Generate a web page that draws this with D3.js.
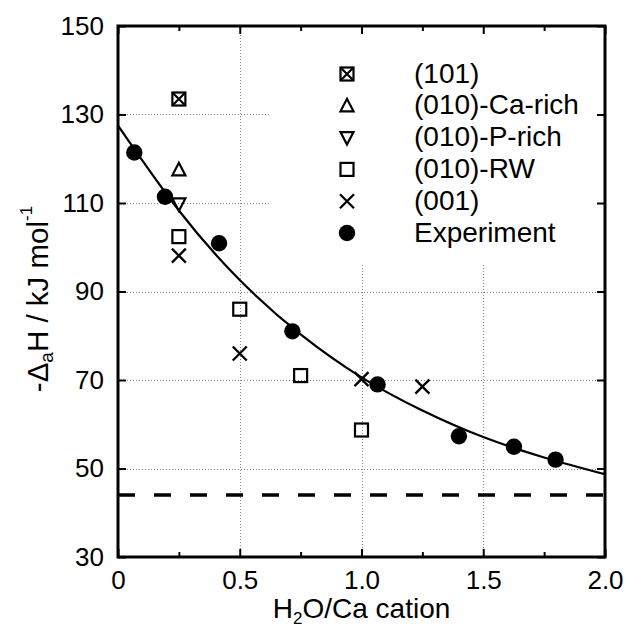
<!DOCTYPE html>
<html>
<head>
<meta charset="utf-8">
<script src="https://cdn.jsdelivr.net/npm/d3@7"></script>
<style>
  html, body { margin: 0; padding: 0; background: #fff; }
  svg { display: block; }
  text { font-family: "Liberation Sans", Arial, sans-serif; fill: #000; }
</style>
</head>
<body>
<div id="chart"></div>
<script>
// ---------------- data ----------------
const xTickValues = [0, 0.5, 1.0, 1.5, 2.0];
const xTickLabels = ["0", "0.5", "1.0", "1.5", "2.0"];
const xMinorTicks = [0.25, 0.75, 1.25, 1.75];
const yTickValues = [30, 50, 70, 90, 110, 130, 150];
const xGridValues = [0.5, 1.0, 1.5];
const yGridValues = [50, 70, 90, 110, 130];

const s101X = [0.25];
const s101Y = [133.5];
const caRichX = [0.25];
const caRichY = [117.5];
const pRichX = [0.25];
const pRichY = [109.8];
const rwX = [0.25, 0.5, 0.75, 1.0];
const rwY = [102.4, 86.0, 71.0, 58.7];
const s001X = [0.25, 0.5, 1.0, 1.25];
const s001Y = [98.1, 76.0, 70.2, 68.5];
const expX = [0.067, 0.193, 0.415, 0.716, 1.066, 1.40, 1.626, 1.797];
const expY = [121.4, 111.4, 100.9, 81.0, 69.0, 57.3, 54.9, 52.0];

const fitX = [0, 0.25, 0.5, 0.75, 1.0, 1.25, 1.5, 1.75, 2.0];
const fitY = [127.5, 108.3, 92.6, 80.3, 70.6, 63.1, 57.1, 52.5, 48.7];

const refLineY = [44];

const legendLabels = ["(101)", "(010)-Ca-rich", "(010)-P-rich", "(010)-RW", "(001)", "Experiment"];
const legendSymbols = ["boxx", "up", "down", "box", "cross", "dot"];

// ---------------- layout ----------------
const W = 628, H = 630;
const L = 118, R = 605, T = 26, B = 557;
const keyBox = { x0: 270, x1: 606, y0: 33, y1: 265 };
const FONT = '"Liberation Sans", Arial, sans-serif';

const svg = d3.select("#chart").append("svg").attr("width", W).attr("height", H);

const x = d3.scaleLinear().domain([0, 2]).range([L, R]);
const y = d3.scaleLinear().domain([30, 150]).range([B, T]);

// ---------------- grid ----------------
const grid = svg.append("g").attr("stroke", "#888").attr("stroke-width", 1)
  .attr("stroke-dasharray", "1,2").attr("fill", "none");
yGridValues.forEach(v => {
  const py = Math.round(y(v)) + 0.5;
  const xe = (py > keyBox.y0 && py < keyBox.y1) ? keyBox.x0 : R;
  grid.append("line").attr("x1", L).attr("x2", xe).attr("y1", py).attr("y2", py);
});
xGridValues.forEach(v => {
  const px = Math.round(x(v)) + 0.5;
  if (px > keyBox.x0 && px < keyBox.x1) {
    grid.append("line").attr("x1", px).attr("x2", px).attr("y1", T).attr("y2", keyBox.y0);
    grid.append("line").attr("x1", px).attr("x2", px).attr("y1", keyBox.y1).attr("y2", B);
  } else {
    grid.append("line").attr("x1", px).attr("x2", px).attr("y1", T).attr("y2", B);
  }
});

// ---------------- reference dashed line ----------------
svg.append("g").selectAll("line").data(refLineY).join("line")
  .attr("x1", L).attr("x2", R)
  .attr("y1", d => y(d)).attr("y2", d => y(d))
  .attr("stroke", "#000").attr("stroke-width", 3.5)
  .attr("stroke-dasharray", "17,19");

// ---------------- fit curve ----------------
svg.append("defs").append("clipPath").attr("id", "clip")
  .append("rect").attr("x", L).attr("y", T).attr("width", R - L).attr("height", B - T);
const line = d3.line().x(d => x(d[0])).y(d => y(d[1])).curve(d3.curveNatural);
svg.append("path")
  .attr("d", line(fitX.map((v, i) => [v, fitY[i]])))
  .attr("clip-path", "url(#clip)")
  .attr("fill", "none").attr("stroke", "#000").attr("stroke-width", 2.2);

// ---------------- markers ----------------
function marker(g, type, cx, cy) {
  const sw = 2.2;
  if (type === "dot") {
    g.append("circle").attr("cx", cx).attr("cy", cy).attr("r", 8.2).attr("fill", "#000");
  } else if (type === "box" || type === "boxx") {
    g.append("rect").attr("x", cx - 6.5).attr("y", cy - 6.5).attr("width", 13).attr("height", 13)
      .attr("fill", "none").attr("stroke", "#000").attr("stroke-width", sw);
    if (type === "boxx") {
      g.append("path").attr("d", `M${cx-6.5},${cy-6.5}L${cx+6.5},${cy+6.5}M${cx+6.5},${cy-6.5}L${cx-6.5},${cy+6.5}`)
        .attr("stroke", "#000").attr("stroke-width", sw).attr("fill", "none");
    }
  } else if (type === "up") {
    g.append("path").attr("d", `M${cx},${cy-7}L${cx+6.5},${cy+5.5}L${cx-6.5},${cy+5.5}Z`)
      .attr("fill", "none").attr("stroke", "#000").attr("stroke-width", sw).attr("stroke-linejoin", "miter");
  } else if (type === "down") {
    g.append("path").attr("d", `M${cx},${cy+7}L${cx+6.5},${cy-5.5}L${cx-6.5},${cy-5.5}Z`)
      .attr("fill", "none").attr("stroke", "#000").attr("stroke-width", sw).attr("stroke-linejoin", "miter");
  } else if (type === "cross") {
    g.append("path").attr("d", `M${cx-7},${cy-7}L${cx+7},${cy+7}M${cx+7},${cy-7}L${cx-7},${cy+7}`)
      .attr("stroke", "#000").attr("stroke-width", 2.3).attr("fill", "none");
  }
}
const mg = svg.append("g");
const seriesList = [
  ["boxx", s101X, s101Y], ["up", caRichX, caRichY], ["down", pRichX, pRichY],
  ["box", rwX, rwY], ["cross", s001X, s001Y], ["dot", expX, expY]
];
seriesList.forEach(([t, xs, ys]) => xs.forEach((v, i) => marker(mg, t, x(v), y(ys[i]))));

// ---------------- legend ----------------
const lg = svg.append("g");
const legY0 = 74, legDy = 31.8, legSymX = 347, legTextX = 414;
legendLabels.forEach((lab, i) => {
  const cy = legY0 + i * legDy;
  marker(lg, legendSymbols[i], legSymX, cy);
  lg.append("text").attr("x", legTextX).attr("y", cy + 8.5)
    .attr("font-size", 28).text(lab);
});

// ---------------- axes ----------------
function styleAxis(g) {
  g.select(".domain").remove();
  g.selectAll(".tick line").attr("stroke", "#000").attr("stroke-width", 2);
  g.selectAll("text").attr("font-family", FONT).attr("fill", "#000");
}
svg.append("g").attr("transform", `translate(0,${B})`)
  .call(d3.axisBottom(x).tickValues(xTickValues).tickFormat((d, i) => xTickLabels[i])
    .tickSizeInner(-8).tickSizeOuter(0).tickPadding(14))
  .call(g => { styleAxis(g); g.selectAll("text").attr("font-size", 26); });
svg.append("g").attr("transform", `translate(0,${B})`)
  .call(d3.axisBottom(x).tickValues(xMinorTicks).tickFormat("").tickSizeInner(-5).tickSizeOuter(0))
  .call(styleAxis);
svg.append("g").attr("transform", `translate(0,${T})`)
  .call(d3.axisTop(x).tickValues(xTickValues).tickFormat("").tickSizeInner(-8).tickSizeOuter(0))
  .call(styleAxis);
svg.append("g").attr("transform", `translate(0,${T})`)
  .call(d3.axisTop(x).tickValues(xMinorTicks).tickFormat("").tickSizeInner(-5).tickSizeOuter(0))
  .call(styleAxis);
svg.append("g").attr("transform", `translate(${L},0)`)
  .call(d3.axisLeft(y).tickValues(yTickValues).tickSizeInner(-8).tickSizeOuter(0).tickPadding(14))
  .call(g => { styleAxis(g); g.selectAll("text").attr("font-size", 26); });
svg.append("g").attr("transform", `translate(${R},0)`)
  .call(d3.axisRight(y).tickValues(yTickValues).tickFormat("").tickSizeInner(-8).tickSizeOuter(0))
  .call(styleAxis);

// frame
svg.append("rect").attr("x", L).attr("y", T).attr("width", R - L).attr("height", B - T)
  .attr("fill", "none").attr("stroke", "#000").attr("stroke-width", 3);

// ---------------- axis titles ----------------
const xt = svg.append("text").attr("x", (L + R) / 2).attr("y", 618)
  .attr("text-anchor", "middle").attr("font-size", 28);
xt.append("tspan").text("H");
xt.append("tspan").attr("font-size", 17).attr("dy", 6).text("2");
xt.append("tspan").attr("dy", -6).text("O/Ca cation");

const yt = svg.append("text").attr("transform", "translate(48,299) rotate(-90)")
  .attr("text-anchor", "middle").attr("font-size", 29.5);
yt.append("tspan").text("-Δ");
yt.append("tspan").attr("font-size", 19).attr("dy", 5).text("a");
yt.append("tspan").attr("dy", -5).text("H / kJ mol");
yt.append("tspan").attr("font-size", 17).attr("dy", -16).text("-1");
</script>
</body>
</html>
